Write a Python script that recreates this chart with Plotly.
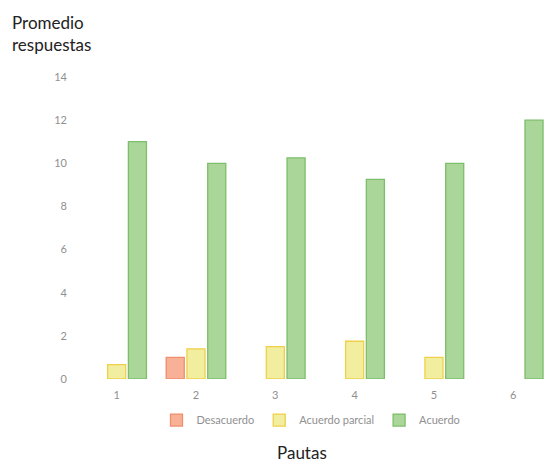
import plotly.graph_objects as go

categories = ["1", "2", "3", "4", "5", "6"]
desacuerdo = [0, 1, 0, 0, 0, 0]
acuerdo_parcial = [0.67, 1.4, 1.5, 1.75, 1.0, 0]
acuerdo = [11, 10, 10.25, 9.25, 10, 12]
y_ticks = [0, 2, 4, 6, 8, 10, 12, 14]

xpos = list(range(len(categories)))

fig = go.Figure()
series = [
    ("Desacuerdo", desacuerdo, "#F8B196", "#EE8E6C"),
    ("Acuerdo parcial", acuerdo_parcial, "#F1EE9F", "#F0CF4A"),
    ("Acuerdo", acuerdo, "#ABD69A", "#7DBE6B"),
]
for name, vals, fill, line in series:
    fig.add_trace(go.Bar(
        x=xpos, y=[v if v else None for v in vals], name=name,
        marker=dict(color=fill, line=dict(color=line, width=1.3)),
    ))

grey = "#909090"
fig.update_layout(
    width=545, height=462,
    margin=dict(l=77, r=0, t=77, b=83),
    plot_bgcolor="white", paper_bgcolor="white",
    barmode="group", bargap=0.215, bargroupgap=0.13,
    font=dict(family="Lato, sans-serif", color=grey, size=11),
    showlegend=True,
    legend=dict(orientation="h", x=0.5, xanchor="center", y=-0.136, yanchor="middle",
                font=dict(size=11, color=grey), itemwidth=30, tracegroupgap=0),
    xaxis=dict(range=[-0.5, 5.4], tickvals=xpos, ticktext=categories,
               showgrid=False, showline=False, zeroline=False, ticks="",
               ticklabelstandoff=8, tickfont=dict(size=11, color=grey)),
    yaxis=dict(range=[0, 14], tickvals=y_ticks, showgrid=False, showline=False,
               zeroline=False, ticks="", ticklen=0, ticklabelstandoff=9,
               tickfont=dict(size=11, color=grey)),
    annotations=[
        dict(text="Promedio<br>respuestas", x=-0.143, y=1.222, xref="paper", yref="paper",
             xanchor="left", yanchor="top", align="left", showarrow=False,
             font=dict(size=17, color="#222222", family="Lato, sans-serif")),
        dict(text="Pautas", x=0.48, y=-0.245, xref="paper", yref="paper",
             xanchor="center", yanchor="middle", showarrow=False,
             font=dict(size=17, color="#222222", family="Lato, sans-serif")),
    ],
)

fig.write_html("out.html")
